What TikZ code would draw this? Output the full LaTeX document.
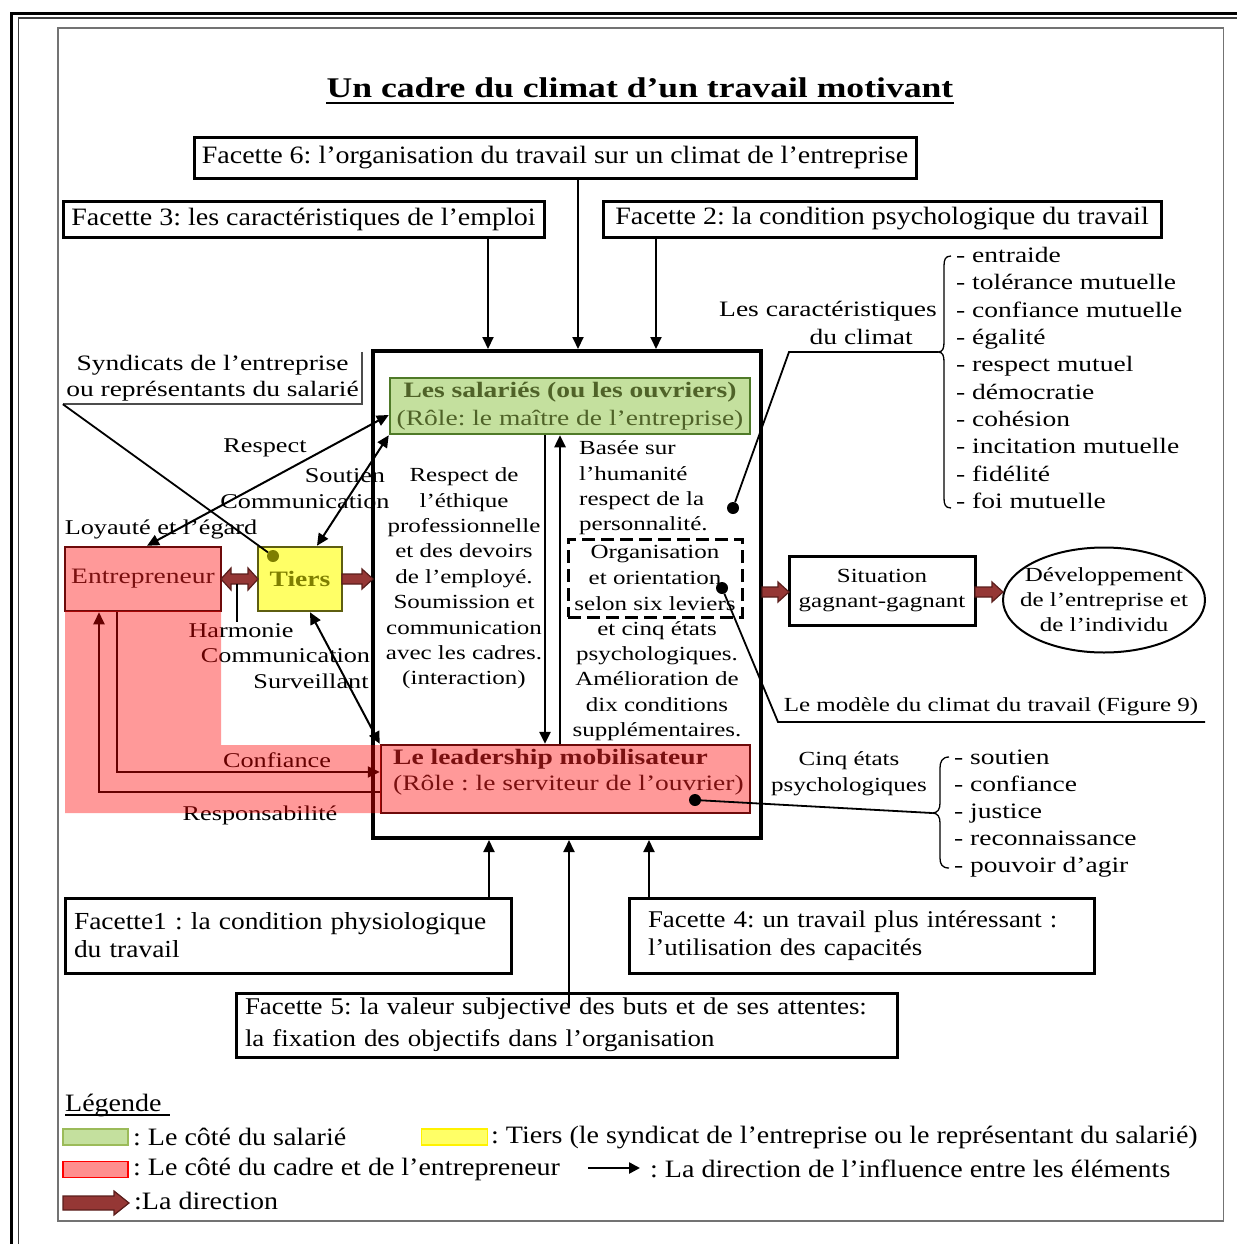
\documentclass[tikz,border=0pt]{standalone}
\usepackage{fontspec}
\setmainfont[FakeStretch=1.12]{Liberation Serif}
\newfontfamily\camf[FakeStretch=1.25]{Liberation Serif}
\usetikzlibrary{arrows.meta,shapes.geometric}
\frenchspacing
\definecolor{gfill}{HTML}{C4E09E}
\definecolor{gborder}{HTML}{4F7A28}
\definecolor{gtext}{HTML}{4F6228}
\definecolor{rfill}{HTML}{FF9999}
\definecolor{rborder}{HTML}{6E0A0A}
\definecolor{rtext}{HTML}{7A1010}
\definecolor{yfill}{HTML}{FFFF66}
\definecolor{yborder}{HTML}{5E5E10}
\definecolor{ytext}{HTML}{7F7F00}
\definecolor{fatfill}{HTML}{953735}
\definecolor{fatline}{HTML}{5A1E1C}
\definecolor{lgb}{HTML}{9BBB59}
\definecolor{lrf}{HTML}{FF8F8F}
\newcommand\fatright[3]{\filldraw[fatst] (#1,#3-5) -- (#2-11,#3-5) -- (#2-11,#3-10) -- (#2,#3) -- (#2-11,#3+10) -- (#2-11,#3+5) -- (#1,#3+5) -- cycle;}
\newcommand\fatboth[3]{\filldraw[fatst] (#1,#3) -- (#1+10,#3-11) -- (#1+10,#3-5) -- (#2-10,#3-5) -- (#2-10,#3-11) -- (#2,#3) -- (#2-10,#3+11) -- (#2-10,#3+5) -- (#1+10,#3+5) -- (#1+10,#3+11) -- cycle;}
\begin{document}
\begin{tikzpicture}[x=1pt,y=-1pt,
  facbox/.style={draw, line width=3pt, inner sep=0pt, font=\fontsize{25}{28}\selectfont},
  inflarrow/.style={line width=2pt, -{Triangle[length=12pt,width=11pt]}},
  bothinfl/.style={line width=2pt, {Triangle[length=12pt,width=11pt]}-{Triangle[length=12pt,width=11pt]}},
  thinl/.style={line width=1.8pt},
  bracel/.style={line width=1.3pt},
  lbl/.style={inner sep=0pt, font=\camf\fontsize{21}{25}\selectfont},
  colst/.style={inner sep=0pt, align=center, font=\camf\fontsize{20}{25.4}\selectfont},
  listst/.style={inner sep=0pt, align=left, anchor=west, font=\camf\fontsize{22}{27.3}\selectfont},
  fatst/.style={fill=fatfill, draw=fatline, line width=1.2pt},
  dotst/.style={circle, fill=black, inner sep=0pt, minimum size=12pt},
  legtext/.style={inner sep=0pt, anchor=west, font=\fontsize{25}{28}\selectfont}
]
\useasboundingbox (0,0) rectangle (1237,1244);
% frames
\draw[line width=3pt] (11,1244) -- (11,14) -- (1237,14);
\draw[line width=1.5pt, black!75] (18.5,1244) -- (18.5,18) -- (1237,18);
\draw[line width=1.5pt, black!55] (58,28) rectangle (1223.5,1221);
% title
\node[inner sep=0pt, font=\camf\bfseries\fontsize{28.5}{32}\selectfont] (title) at (640,88) {Un cadre du climat d’un travail motivant};
\draw[line width=2pt] ([yshift=-5pt]title.base west) -- ([yshift=-5pt]title.base east);
% facettes
\node[facbox, minimum width=722pt, minimum height=41pt] (f6) at (555,157.5) {Facette 6: l’organisation du travail sur un climat de l’entreprise};
\node[facbox, minimum width=481pt, minimum height=36pt] (f3) at (303.5,219) {Facette 3: les caractéristiques de l’emploi};
\node[facbox, minimum width=558pt, minimum height=36pt] (f2) at (882,219) {Facette 2: la condition psychologique du travail};
\node[facbox, minimum width=446pt, minimum height=75pt, text width=428pt, align=left, font=\fontsize{24.5}{28}\selectfont] (f1) at (288,935.5) {Facette1 : la condition physiologique\\du travail};
\node[facbox, minimum width=465pt, minimum height=75pt, text width=427pt, align=left, font=\fontsize{24}{28}\selectfont] (f4) at (861.5,935.5) {Facette 4: un travail plus intéressant :\\l’utilisation des capacités};
\node[facbox, minimum width=661pt, minimum height=64pt, text width=643pt, align=left, font=\fontsize{24}{32}\selectfont] (f5) at (566.5,1025) {Facette 5: la valeur subjective des buts et de ses attentes:\\la fixation des objectifs dans l’organisation};
% central box
\node[draw, line width=4pt, minimum width=388pt, minimum height=487pt, inner sep=0pt] (big) at (567,594.5) {};
\coordinate (xa) at (488,0); \coordinate (xb) at (578,0); \coordinate (xc) at (656,0);
\coordinate (xd) at (489,0); \coordinate (xe) at (569,0); \coordinate (xf) at (649,0);
\coordinate (f5top) at ([yshift=-14pt]f5.north);
\draw[inflarrow] (f3.south -| xa) -- (big.north -| xa);
\draw[inflarrow] (f6.south -| xb) -- (big.north -| xb);
\draw[inflarrow] (f2.south -| xc) -- (big.north -| xc);
\draw[inflarrow] (f1.north -| xd) -- (big.south -| xd);
\draw[inflarrow] (f5top -| xe) -- (big.south -| xe);
\draw[inflarrow] (f4.north -| xf) -- (big.south -| xf);
% green and red boxes
\node[draw=gborder, fill=gfill, line width=2.5pt, minimum width=360pt, minimum height=56pt, inner sep=0pt, align=center, text=gtext, font=\camf\fontsize{22}{27.5}\selectfont] (green) at (570,406) {\textbf{Les salariés (ou les ouvriers)}\\(Rôle: le maître de l’entreprise)};
\node[draw=rborder, fill=rfill, line width=2.5pt, minimum width=369pt, minimum height=68pt, inner sep=0pt] (red) at (565.5,779) {};
\node[anchor=west, inner sep=0pt, align=left, text=rtext, font=\camf\fontsize{22}{26}\selectfont] (redtxt) at (393,772) {\textbf{Le leadership mobilisateur}\\(Rôle : le serviteur de l’ouvrier)};
\coordinate (xg) at (545,0); \coordinate (xh) at (560,0);
\draw[inflarrow, line width=2.5pt] (green.south -| xg) -- (red.north -| xg);
\draw[inflarrow, line width=2.5pt] (red.north -| xh) -- (green.south -| xh);
% inner texts
\node[colst] (lcol) at (464,578.5) {Respect de\\l’éthique\\professionnelle\\et des devoirs\\de l’employé.\\Soumission et\\communication\\avec les cadres.\\(interaction)};
\node[colst, align=left, anchor=west] (rcol1) at (579,488) {Basée sur\\l’humanité\\respect de la\\personnalité.};
\node[draw, line width=3pt, dash pattern=on 13pt off 6pt, minimum width=174pt, minimum height=78pt, inner sep=0pt, align=center, font=\camf\fontsize{20}{25.6}\selectfont] (dbox) at (655,578) {Organisation\\et orientation\\selon six leviers};
\node[colst] (rcol2) at (657,681) {et cinq états\\psychologiques.\\Amélioration de\\dix conditions\\supplémentaires.};
\node[dotst] (d1) at (733,508) {};
\node[dotst] (d2) at (722,588) {};
\node[dotst] (d3) at (695,800) {};
% left side
\node[draw=rborder, fill=rfill, line width=2.5pt, minimum width=156pt, minimum height=64pt, inner sep=0pt, text=rtext, font=\camf\fontsize{22}{26}\selectfont] (entre) at (143,579) {Entrepreneur};
\node[draw=yborder, fill=yfill, line width=2.5pt, minimum width=84pt, minimum height=64pt, inner sep=0pt, text=ytext, font=\camf\bfseries\fontsize{22}{26}\selectfont] (tiers) at (300,579) {Tiers};
\node[circle, fill=ytext, inner sep=0pt, minimum size=12pt] (tdot) at (273,556) {};
\node[inner sep=0pt, minimum width=299pt, minimum height=52pt, align=center, font=\camf\fontsize{22}{26}\selectfont] (syn) at (212.5,378) {Syndicats de l’entreprise\\ou représentants du salarié};
\draw[line width=1.5pt, black!70] (syn.north east) -- (syn.south east) -- (syn.south west);
\draw[thinl] (syn.south west) -- (tdot);
\draw[bothinfl] ([xshift=4pt]entre.north) -- ([yshift=-9pt]green.west);
\draw[bothinfl] ([xshift=17pt]tiers.north) -- (green.south west);
\draw[bothinfl] ([xshift=10pt]tiers.south) -- (red.north west);
\fatboth{221}{258}{579}
\fatright{342}{373}{579}
\coordinate (hm) at (237,622);
\draw[thinl] (237,584) -- (hm);
\draw[inflarrow] ([xshift=-26pt]entre.south) |- ([yshift=7pt]red.west);
\draw[inflarrow] ([yshift=-13pt]red.west) -| ([xshift=-44pt]entre.south);
\node[lbl] (l1) at (265,448) {Respect};
\node[lbl] (l2) at (345,476) {Soutien};
\node[lbl] (l3) at (305,502) {Communication};
\node[lbl] (l4) at (161,529) {Loyauté et l’égard};
\node[lbl] (l5) at (241,631) {Harmonie};
\node[lbl] (l6) at (285.5,656) {Communication};
\node[lbl] (l7) at (311,681) {Surveillant};
\node[lbl] (l8) at (277,760) {Confiance};
\node[lbl] (l9) at (260,815) {Responsabilité};
% right side
\node[draw, line width=3pt, minimum width=186pt, minimum height=69pt, inner sep=0pt, align=center, font=\camf\fontsize{20}{25}\selectfont] (sit) at (882,590.5) {Situation\\gagnant-gagnant};
\node[draw, ellipse, line width=2pt, minimum width=202pt, minimum height=105pt, inner xsep=-14pt, inner ysep=0pt, align=center, font=\camf\fontsize{20}{25}\selectfont] (dev) at (1104,600) {Développement\\de l’entreprise et\\de l’individu};
\fatright{762}{789}{592}
\fatright{975}{1003}{592}
\node[inner sep=0pt, align=right, anchor=east, font=\camf\fontsize{22}{27.5}\selectfont] (carac) at (937,323) {Les caractéristiques\\du climat\hspace*{24pt}};
\coordinate (bt1) at (938,352);
\coordinate (k1) at (789,352);
\draw[thinl] (d1) -- (k1) -- (bt1);
\draw[bracel] (951,256) .. controls (945,256) and (944,260) .. (944,266) -- (944,342) .. controls (944,348) and (943,352) .. (938,352) .. controls (943,352) and (944,356) .. (944,362) -- (944,498) .. controls (944,504) and (945,508) .. (951,508);
\node[listst] (list1) at (956,378) {- entraide\\- tolérance mutuelle\\- confiance mutuelle\\- égalité\\- respect mutuel\\- démocratie\\- cohésion\\- incitation mutuelle\\- fidélité\\- foi mutuelle};
\coordinate (k2) at (778,722); \coordinate (e2) at (1205,722);
\draw[thinl] (d2) -- (k2) -- (e2);
\node[inner sep=0pt, font=\camf\fontsize{20}{24}\selectfont] (model) at (991,707) {Le modèle du climat du travail (Figure 9)};
\node[inner sep=0pt, align=center, font=\camf\fontsize{20}{26.5}\selectfont] (cinq) at (849,773.5) {Cinq états\\psychologiques};
\coordinate (bt2) at (932,813);
\draw[thinl] (d3) -- (bt2);
\draw[bracel] (949,757) .. controls (942,757) and (940,762) .. (940,768) -- (940,803) .. controls (940,809) and (938,813) .. (932,813) .. controls (938,813) and (940,817) .. (940,823) -- (940,858) .. controls (940,864) and (942,868) .. (949,868);
\node[listst, font=\camf\fontsize{22}{26.8}\selectfont] (list2) at (954,813.5) {- soutien\\- confiance\\- justice\\- reconnaissance\\- pouvoir d’agir};
% legend
\node[inner sep=0pt, anchor=west, font=\fontsize{25}{28}\selectfont] (leg) at (65,1105) {Légende};
\draw[line width=1.5pt] ([yshift=-4pt]leg.base west) -- ([yshift=-4pt,xshift=8pt]leg.base east);
\node[fill=gfill, draw=lgb, line width=1.5pt, minimum width=65pt, minimum height=16pt, inner sep=0pt] (sw1) at (95.5,1137) {};
\node[legtext] (lt1) at (133,1137) {: Le côté du salarié};
\node[fill=yfill, draw=yellow, line width=1.5pt, minimum width=66pt, minimum height=16pt, inner sep=0pt] (sw2) at (454.5,1137) {};
\node[legtext] (lt2) at (491,1137) {: Tiers (le syndicat de l’entreprise ou le représentant du salarié)};
\node[fill=lrf, draw=red, line width=1.5pt, minimum width=65pt, minimum height=16pt, inner sep=0pt] (sw3) at (95.5,1169.5) {};
\node[legtext] (lt3) at (133,1169) {: Le côté du cadre et de l’entrepreneur};
\coordinate (la1) at (588,1168); \coordinate (la2) at (640,1168);
\draw[line width=2.5pt, -{Triangle[length=11pt,width=11pt]}] (la1) -- (la2);
\node[legtext] (lt4) at (650,1169) {: La direction de l’influence entre les éléments};
\filldraw[fatst] (63,1196) -- (114,1196) -- (114,1191) -- (129,1203) -- (114,1215) -- (114,1210) -- (63,1210) -- cycle;
\node[legtext] (lt5) at (134,1201) {:La direction};
% translucent red region
\fill[red, fill opacity=0.4] (65,611) -- (221,611) -- (221,745) -- (381,745) -- (381,813) -- (65,813) -- cycle;
\end{tikzpicture}
\end{document}
